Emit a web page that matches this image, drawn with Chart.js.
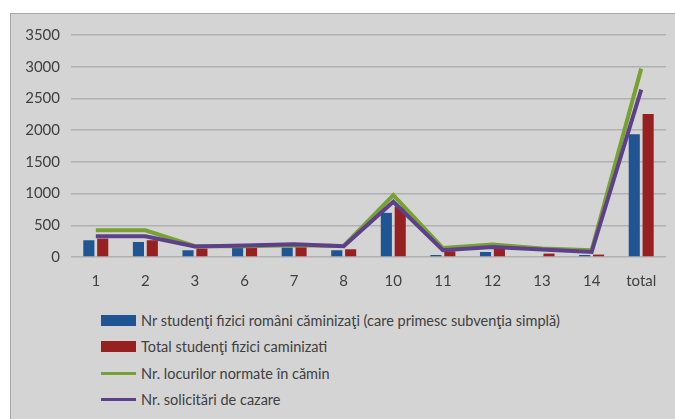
<!DOCTYPE html>
<html>
<head>
<meta charset="utf-8">
<script src="https://cdn.jsdelivr.net/npm/chart.js@4/dist/chart.umd.min.js"></script>
<style>
  html, body { margin: 0; padding: 0; background: #fff; }
  .frame {
    position: absolute; left: 10px; top: 13px; width: 665px; height: 406px;
    background: #d4d4d4; border-left: 1px solid #a8a8a8; border-top: 1px solid #a8a8a8;
    font-family: Lato, "Liberation Sans", sans-serif; color: #404040;
  }
  .frame canvas { position: absolute; left: 0; top: 0; }
  .legend { position: absolute; left: 90px; top: 293px; margin: 0; padding: 0; list-style: none; }
  .legend li { height: 26.5px; display: flex; align-items: center; font-size: 14.5px; white-space: nowrap; }
  .legend .sw { display: inline-block; width: 35px; margin-right: 5px; }
</style>
</head>
<body>
<div class="frame">
  <canvas id="chart" width="665" height="285"></canvas>
  <ul class="legend" id="legend"></ul>
</div>
<script>
// ── Data ──────────────────────────────────────────────────────────
const categories = ['1', '2', '3', '6', '7', '8', '10', '11', '12', '13', '14', 'total'];
const studentiRomani = [264, 237, 106, 142, 148, 106, 696, 32, 79, 0, 32, 1937];
const totalStudenti = [290, 264, 133, 142, 155, 122, 791, 90, 133, 54, 38, 2253];
const locuriNormate = [422, 422, 170, 170, 185, 174, 976, 142, 196, 133, 106, 2970];
const solicitari = [327, 327, 165, 180, 200, 170, 870, 106, 158, 117, 79, 2638];
const yTicks = [0, 500, 1000, 1500, 2000, 2500, 3000, 3500];

const seriesNames = [
  'Nr studenţi fizici români căminizaţi (care primesc subvenţia simplă)',
  'Total studenţi fizici caminizati',
  'Nr. locurilor normate în cămin',
  'Nr. solicitări de cazare',
];

const BLUE = '#1f5592', RED = '#972121', GREEN = '#77a131', PURPLE = '#5d3f8b';
const FONT = { family: 'Lato, "Liberation Sans", sans-serif', size: 15 };

const chart = new Chart(document.getElementById('chart'), {
  data: {
    labels: categories,
    datasets: [
      { type: 'bar', label: seriesNames[0], data: studentiRomani, backgroundColor: BLUE,
        categoryPercentage: 0.56, barPercentage: 0.8, order: 2 },
      { type: 'bar', label: seriesNames[1], data: totalStudenti, backgroundColor: RED,
        categoryPercentage: 0.56, barPercentage: 0.8, order: 2 },
      { type: 'line', label: seriesNames[2], data: locuriNormate, borderColor: GREEN,
        borderWidth: 4, pointRadius: 0, tension: 0, order: 1 },
      { type: 'line', label: seriesNames[3], data: solicitari, borderColor: PURPLE,
        borderWidth: 4, pointRadius: 0, tension: 0, order: 0 },
    ],
  },
  options: {
    responsive: false,
    animation: false,
    layout: { padding: { left: 0, right: 10, top: 21, bottom: 12 } },
    plugins: { legend: { display: false }, tooltip: { enabled: false } },
    scales: {
      x: {
        offset: true,
        grid: { display: false },
        border: { display: false },
        ticks: { color: '#404040', font: FONT, padding: 7, maxRotation: 0 },
        afterFit: s => { s.height = 30; },
      },
      y: {
        min: 0, max: 3500,
        afterBuildTicks: s => { s.ticks = yTicks.map(v => ({ value: v })); },
        grid: { color: '#b0b0b0', lineWidth: 1.5, drawTicks: false },
        border: { display: false },
        ticks: { color: '#404040', font: FONT, padding: 11, callback: v => String(v) },
        afterFit: s => { s.width = 60; },
      },
    },
  },
});

// ── HTML legend, one item per row ─────────────────────────────────
const legendEl = document.getElementById('legend');
chart.data.datasets.forEach(ds => {
  const li = document.createElement('li');
  const sw = document.createElement('span');
  sw.className = 'sw';
  if (ds.type === 'bar') {
    sw.style.height = '11px';
    sw.style.background = ds.backgroundColor;
  } else {
    sw.style.height = '3px';
    sw.style.background = ds.borderColor;
  }
  li.appendChild(sw);
  li.appendChild(document.createTextNode(ds.label));
  legendEl.appendChild(li);
});
</script>
</body>
</html>
